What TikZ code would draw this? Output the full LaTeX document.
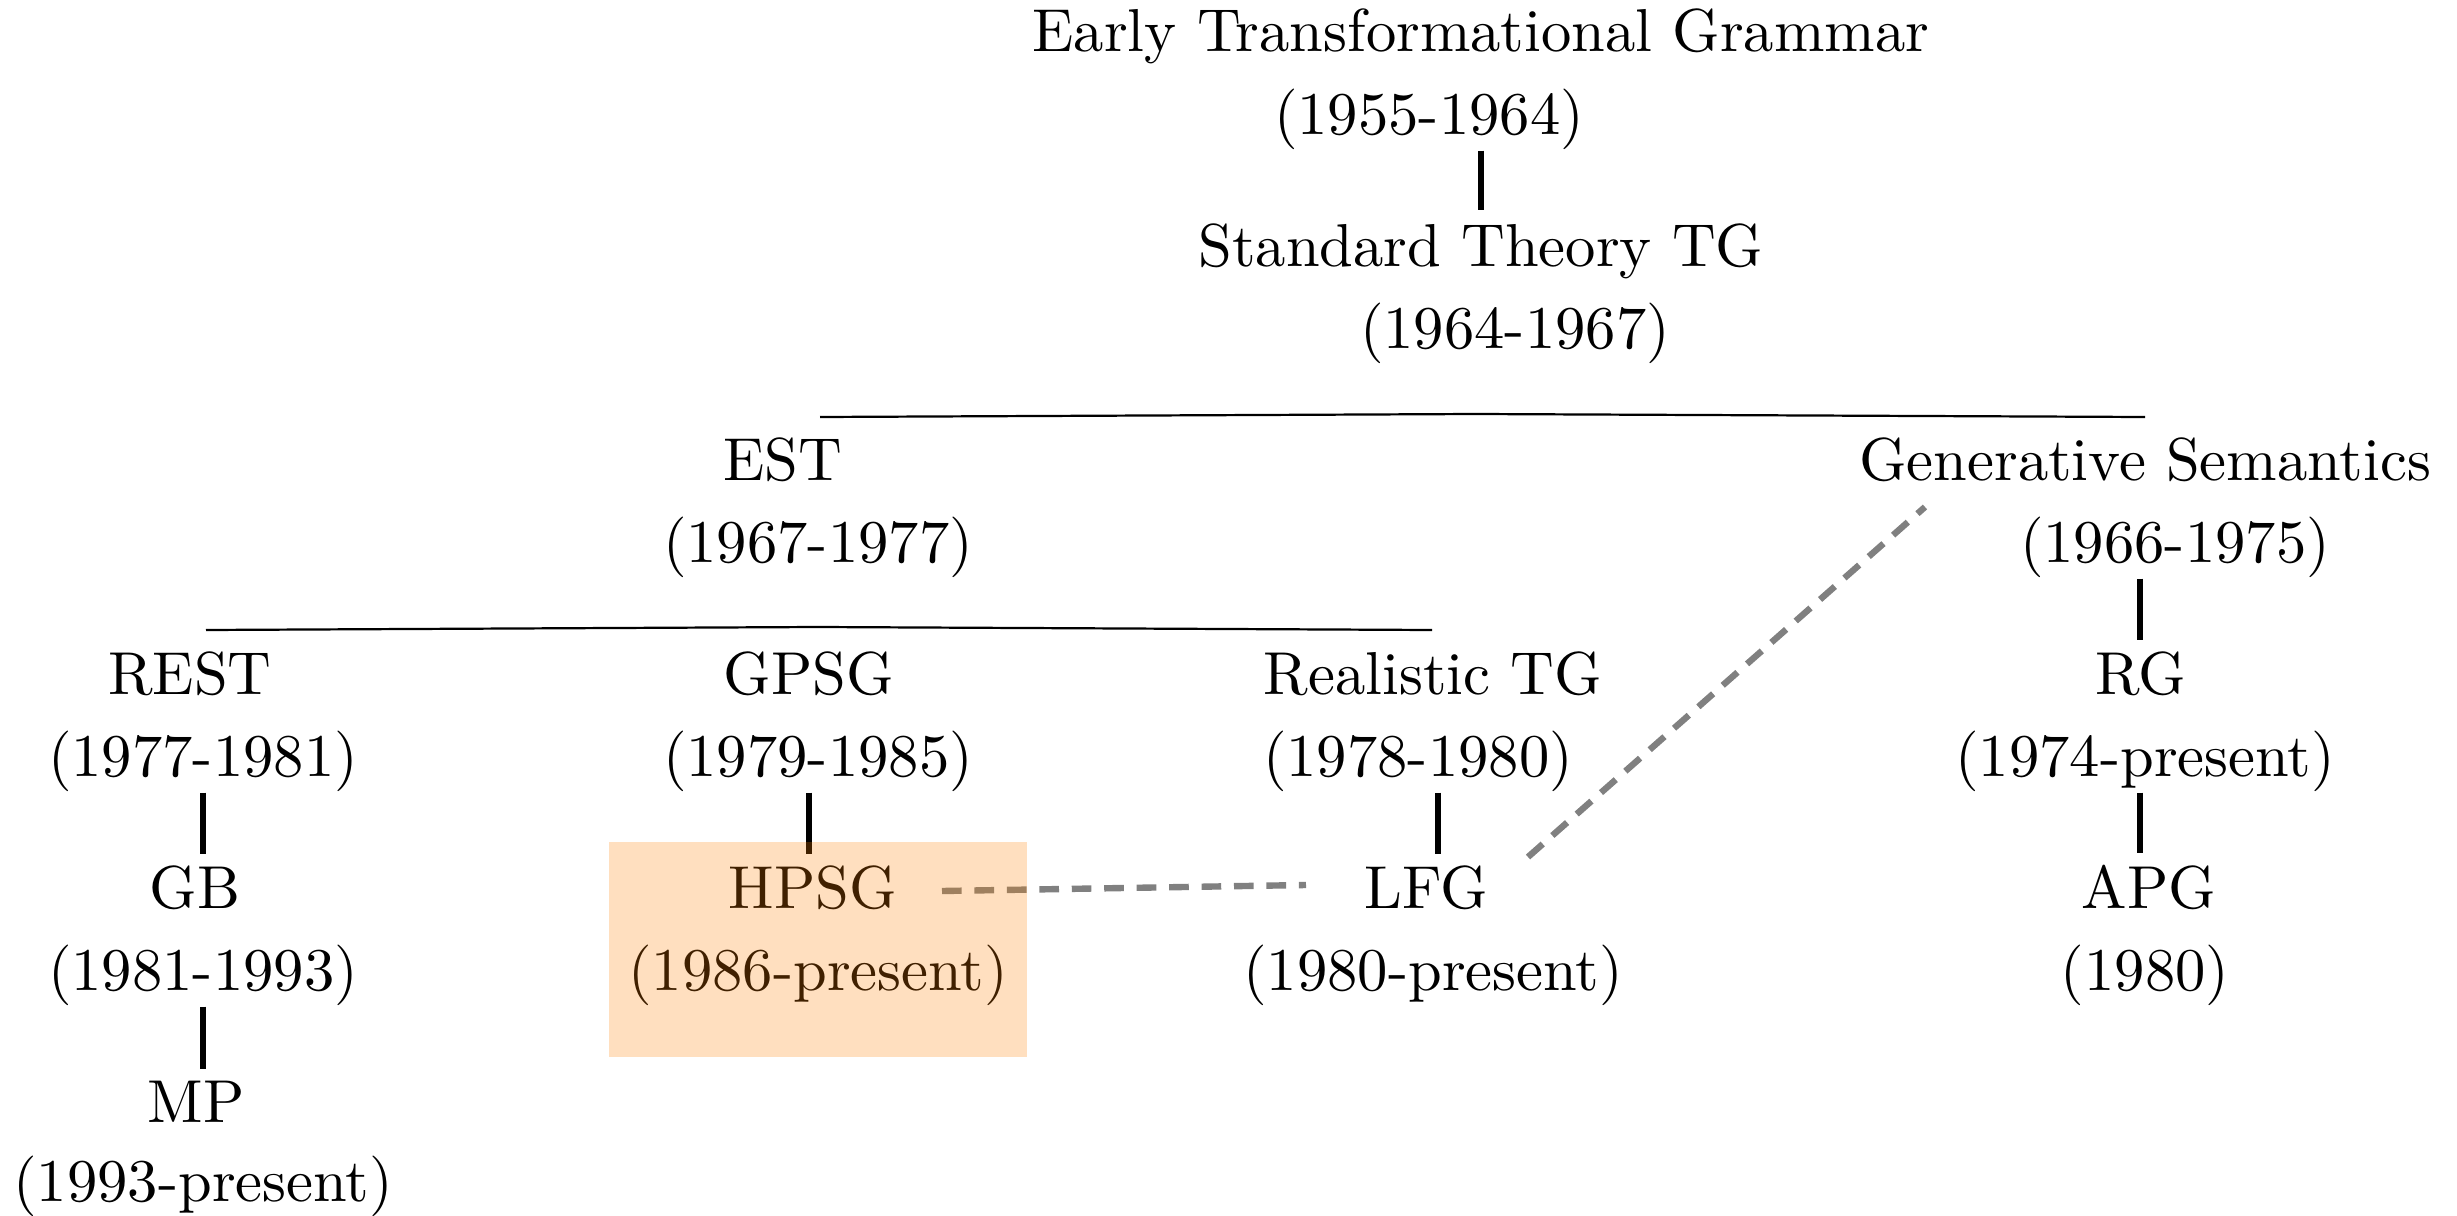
\documentclass[tikz,border=0pt]{standalone}
\usepackage{graphicx}
\newcommand{\lbl}[1]{\scalebox{1.233}{#1}}
\begin{document}
\begin{tikzpicture}[x=0.2034pt,y=-0.2034pt,
  lab/.style={anchor=base,inner sep=0pt,outer sep=0pt},
  vline/.style={line width=1.1pt},
  hline/.style={line width=0.45pt},
  dline/.style={gray,line width=1.3pt,dash pattern=on 4pt off 2.6pt},
]
\useasboundingbox (0,0) rectangle (2457,1216);
% level 1-2
\node[lab] (etg)  at (1481,52)  {\lbl{Early Transformational Grammar}};
\node[lab] (etgd) at (1429,134) {\lbl{(1955-1964)}};
\node[lab] (std)  at (1481,266) {\lbl{Standard Theory TG}};
\node[lab] (stdd) at (1515,348) {\lbl{(1964-1967)}};
% level 3
\node[lab] (est)  at (783,480)  {\lbl{EST}};
\node[lab] (estd) at (818,562)  {\lbl{(1967-1977)}};
\node[lab] (gs)   at (2145,480) {\lbl{Generative Semantics}};
\node[lab] (gsd)  at (2175,562) {\lbl{(1966-1975)}};
% level 4
\node[lab] (rest)  at (190,694)  {\lbl{REST}};
\node[lab] (restd) at (203,776)  {\lbl{(1977-1981)}};
\node[lab] (gpsg)  at (809,694)  {\lbl{GPSG}};
\node[lab] (gpsgd) at (818,776)  {\lbl{(1979-1985)}};
\node[lab] (rtg)   at (1433,694) {\lbl{Realistic TG}};
\node[lab] (rtgd)  at (1418,776) {\lbl{(1978-1980)}};
\node[lab] (rg)    at (2141,694) {\lbl{RG}};
\node[lab] (rgd)   at (2145,776) {\lbl{(1974-present)}};
% level 5
\node[lab] (gb)    at (195,908)  {\lbl{GB}};
\node[lab] (gbd)   at (203,990)  {\lbl{(1981-1993)}};
\node[lab] (hpsg)  at (813,908)  {\lbl{HPSG}};
\node[lab] (hpsgd) at (818,990)  {\lbl{(1986-present)}};
\node[lab] (lfg)   at (1426,908) {\lbl{LFG}};
\node[lab] (lfgd)  at (1433,990) {\lbl{(1980-present)}};
\node[lab] (apg)   at (2149,908) {\lbl{APG}};
\node[lab] (apgd)  at (2145,990) {\lbl{(1980)}};
% level 6
\node[lab] (mp)    at (196,1122) {\lbl{MP}};
\node[lab] (mpd)   at (203,1201) {\lbl{(1993-present)}};
% column x positions
\coordinate (xa) at (1481,0);
\coordinate (xb) at (203,0);
\coordinate (xc) at (809,0);
\coordinate (xd) at (1438,0);
\coordinate (xe) at (2140,0);
% vertical connectors
\draw[vline] ([yshift=-0.3pt]etgd.south -| xa) -- ([yshift=2.6pt]std.north -| xa);
\draw[vline] ([yshift=-0.3pt]gsd.south -| xe) -- ([yshift=2.3pt]rg.north -| xe);
\draw[vline] ([yshift=-0.3pt]restd.south -| xb) -- ([yshift=2.3pt]gb.north -| xb);
\draw[vline] ([yshift=-0.3pt]gbd.south -| xb) -- ([yshift=2.3pt]mp.north -| xb);
\draw[vline] ([yshift=-0.3pt]gpsgd.south -| xc) -- ([yshift=2.3pt]hpsg.north -| xc);
\draw[vline] ([yshift=-0.3pt]rtgd.south -| xd) -- ([yshift=2.3pt]lfg.north -| xd);
\draw[vline] ([yshift=-0.3pt]rgd.south -| xe) -- ([yshift=2.3pt]apg.north -| xe);
% branching lines
\coordinate (ja)  at (1476,414);
\coordinate (jal) at (820,417);
\coordinate (jar) at (2145,417);
\draw[hline] (jal) -- (ja) -- (jar);
\coordinate (jb)  at (818,627);
\coordinate (jbl) at (206,630);
\coordinate (jbr) at (1432,630);
\draw[hline] (jbl) -- (jb) -- (jbr);
% dashed relations
\coordinate (da) at (942,891);
\coordinate (db) at (1306,885);
\draw[dline] (da) -- (db);
\coordinate (dc) at (1528,857);
\coordinate (dd) at (1925,507);
\draw[dline] (dc) -- (dd);
% highlight
\fill[orange,fill opacity=0.25] (609,842) rectangle (1027,1057);
\end{tikzpicture}
\end{document}
